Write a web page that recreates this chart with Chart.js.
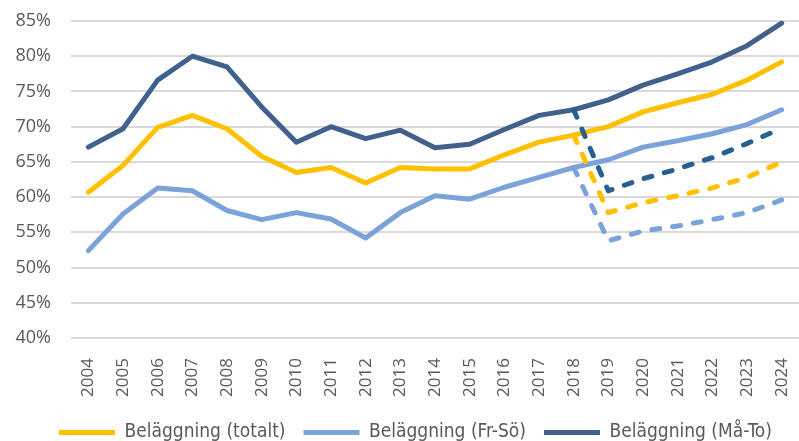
<!DOCTYPE html>
<html>
<head>
<meta charset="utf-8">
<script src="https://cdn.jsdelivr.net/npm/chart.js@4"></script>
<style>
  html, body { margin: 0; padding: 0; background: #fff; }
  #wrap { width: 799px; height: 441px; }
</style>
</head>
<body>
<div id="wrap"><canvas id="linechart" width="799" height="441"></canvas></div>
<script>
var years = ["2004","2005","2006","2007","2008","2009","2010","2011","2012","2013","2014",
             "2015","2016","2017","2018","2019","2020","2021","2022","2023","2024"];

// solid series (share in %)
var totalt = [60.7,64.5,69.9,71.6,69.7,65.8,63.5,64.2,62.0,64.2,64.0,64.0,66.0,67.8,68.8,70.0,72.1,73.4,74.6,76.6,79.2];
var frSo   = [52.4,57.6,61.3,60.9,58.1,56.8,57.8,56.9,54.2,57.8,60.2,59.7,61.4,62.8,64.2,65.3,67.1,68.0,69.0,70.3,72.4];
var maTo   = [67.1,69.7,76.6,80.0,78.5,72.8,67.8,70.0,68.3,69.5,67.0,67.5,69.6,71.6,72.4,73.8,75.9,77.5,79.2,81.5,84.7];

// dashed alternative paths from 2018
var totaltAlt = [null,null,null,null,null,null,null,null,null,null,null,null,null,null,68.8,57.8,59.2,60.2,61.3,62.8,65.0];
var frSoAlt   = [null,null,null,null,null,null,null,null,null,null,null,null,null,null,64.2,53.8,55.2,55.9,56.8,57.8,59.6];
var maToAlt   = [null,null,null,null,null,null,null,null,null,null,null,null,null,null,72.4,60.9,62.6,64.0,65.6,67.6,69.8];

var yTicks = [40,45,50,55,60,65,70,75,80,85];

var yellow = "#FFC000";
var light = "#7BA3D9";
var dark = "#40618B";
var darkDash = "#265F91";

function solid(label, data, color) {
	return {
		label: label, data: data, borderColor: color, backgroundColor: color,
		borderWidth: 5, pointRadius: 0, tension: 0,
		borderCapStyle: "round", borderJoinStyle: "round", order: 2
	};
}
function dashed(label, data, color) {
	return {
		label: label, data: data, borderColor: color, backgroundColor: color,
		borderWidth: 5, pointRadius: 0, tension: 0, borderDash: [8, 13],
		borderCapStyle: "round", borderJoinStyle: "round", order: 1
	};
}

// nudge the legend a bit, like the original
var legendShift = {
	id: "legendShift",
	afterLayout: function (chart) {
		var lg = chart.legend;
		lg.left += 16; lg.right += 16;
		lg.top += 5; lg.bottom += 5;
	}
};

var ctx = document.getElementById("linechart").getContext("2d");
var chart = new Chart(ctx, {
	type: "line",
	data: {
		labels: years,
		datasets: [
			solid("Beläggning (totalt)", totalt, yellow),
			solid("Beläggning (Fr-Sö)", frSo, light),
			solid("Beläggning (Må-To)", maTo, dark),
			dashed("alt1", maToAlt, darkDash),
			dashed("alt2", totaltAlt, yellow),
			dashed("alt3", frSoAlt, light)
		]
	},
	plugins: [legendShift],
	options: {
		responsive: false,
		animation: false,
		layout: { padding: { left: 0, right: 0, top: 21, bottom: -6 } },
		plugins: {
			tooltip: { enabled: false },
			legend: {
				position: "bottom",
				labels: {
					filter: function (item) { return item.text.indexOf("alt") !== 0; },
					boxWidth: 56, boxHeight: 5, padding: 18,
					color: "#595959",
					font: { family: "'Liberation Sans Narrow', 'DejaVu Sans Condensed', 'Open Sans', sans-serif", size: 19 },
					generateLabels: function (chart) {
						return chart.data.datasets.map(function (ds, i) {
							return { text: ds.label, fillStyle: ds.borderColor, strokeStyle: ds.borderColor,
								lineWidth: 0, fontColor: "#595959", datasetIndex: i, hidden: false };
						});
					}
				}
			}
		},
		scales: {
			x: {
				offset: true,
				grid: { display: false },
				border: { display: false },
				afterFit: function (axis) {
					axis.height = 62;
					axis.paddingLeft = 0; axis.paddingRight = 0;
				},
				ticks: {
					minRotation: 90, maxRotation: 90, autoSkip: false, padding: 12,
					color: "#595959", font: { family: "'Open Sans', sans-serif", size: 17 }
				}
			},
			y: {
				min: 40, max: 85,
				afterBuildTicks: function (axis) { axis.ticks = yTicks.map(function (v) { return { value: v }; }); },
				afterFit: function (axis) {
					axis.width = 71;
					axis.paddingTop = 0; axis.paddingBottom = 0;
				},
				grid: { color: "#D9D9D9", lineWidth: 2, drawTicks: false },
				border: { display: false },
				ticks: {
					padding: 20, color: "#595959",
					font: { family: "'Open Sans', sans-serif", size: 18 },
					callback: function (v) { return v + "%"; }
				}
			}
		}
	}
});
</script>
</body>
</html>
